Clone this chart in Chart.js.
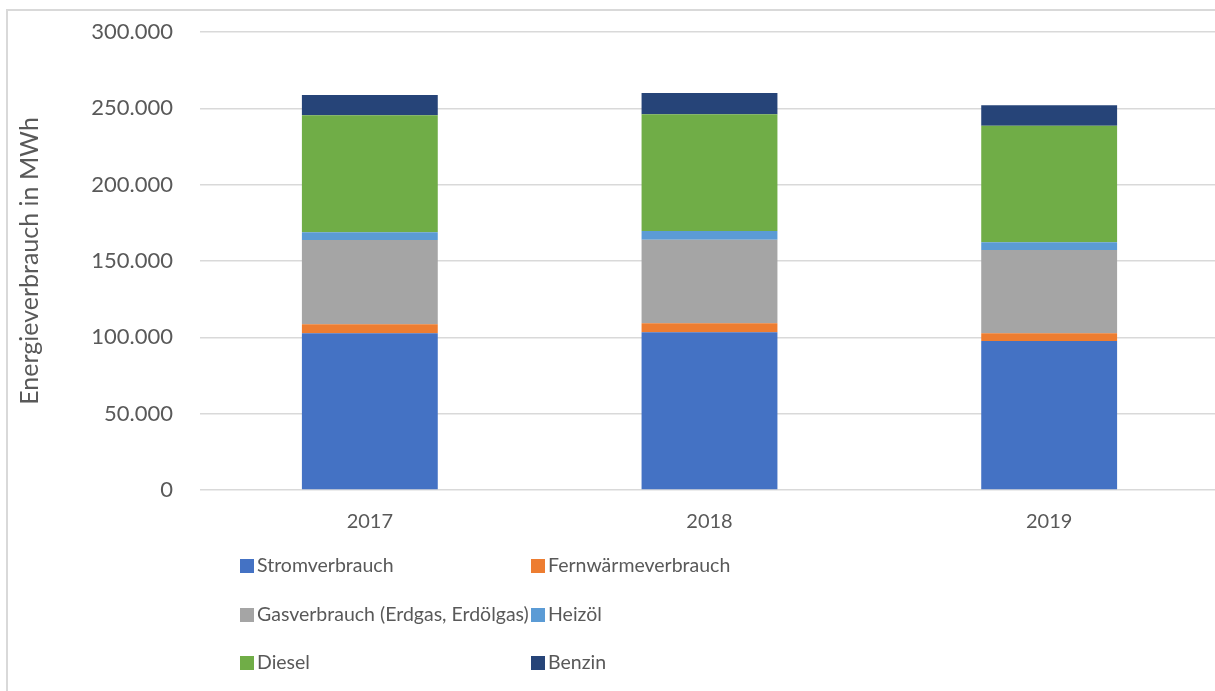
<!DOCTYPE html>
<html lang="de">
<head>
<meta charset="utf-8">
<title>Energieverbrauch</title>
<script src="https://cdn.jsdelivr.net/npm/chart.js@4.4.0/dist/chart.umd.min.js"></script>
<style>
  html, body { margin: 0; padding: 0; background: #fff; overflow: hidden; }
  #wrap { position: relative; width: 1215px; height: 691px; overflow: hidden; }
  #frame { position: absolute; left: 6px; top: 9px; width: 1300px; height: 800px;
           border: 2px solid #d9d9d9; box-sizing: border-box; }
  #myChart { position: absolute; left: 0; top: 0; }
  #legend { position: absolute; left: 0; top: 0; font-family: Lato, sans-serif;
            font-size: 19.5px; color: #595959; }
  .item { position: absolute; height: 24px; line-height: 24px; white-space: nowrap; }
  .box { display: inline-block; width: 14px; height: 14px; margin-right: 3px; vertical-align: -1px; }
</style>
</head>
<body>
<div id="wrap">
  <div id="frame"></div>
  <canvas id="myChart" width="1219" height="691"></canvas>
  <div id="legend"></div>
</div>
<script>
// Energieverbrauch je Jahr in MWh
const years = ['2017', '2018', '2019'];
const strom = [102600, 103300, 97600];
const fernwaerme = [5900, 5900, 5000];
const gas = [55300, 54800, 54600];
const heizoel = [5000, 5600, 5000];
const diesel = [76600, 76500, 76400];
const benzin = [13300, 13900, 13400];

const seriesNames = ['Stromverbrauch', 'Fernwärmeverbrauch', 'Gasverbrauch (Erdgas, Erdölgas)', 'Heizöl', 'Diesel', 'Benzin'];
const seriesValues = [strom, fernwaerme, gas, heizoel, diesel, benzin];
const colors = ['#4472c4', '#ed7d31', '#a5a5a5', '#5b9bd5', '#70ad47', '#264478'];

const textColor = '#595959';
Chart.defaults.font.family = 'Lato, sans-serif';

const ctx = document.getElementById('myChart');
const chart = new Chart(ctx, {
    type: 'bar',
    data: {
        labels: years,
        datasets: seriesNames.map((name, i) => ({
            label: name,
            data: seriesValues[i],
            backgroundColor: colors[i],
            borderWidth: 0,
            barPercentage: 0.4,
            categoryPercentage: 1.0
        }))
    },
    options: {
        responsive: false,
        animation: false,
        layout: { padding: { left: 13, top: 32, right: 0, bottom: 157 } },
        plugins: {
            legend: { display: false },
            tooltip: { enabled: false }
        },
        scales: {
            x: {
                stacked: true,
                grid: { display: false },
                border: { display: false },
                ticks: { color: textColor, font: { size: 20 }, padding: 12 },
                afterFit: axis => { axis.height = 44; }
            },
            y: {
                stacked: true,
                min: 0,
                max: 300000,
                ticks: {
                    stepSize: 50000,
                    padding: 27,
                    color: textColor,
                    font: { size: 22 },
                    callback: v => v.toLocaleString('de-DE')
                },
                grid: { color: '#d9d9d9', lineWidth: 1.5, drawTicks: false },
                border: { display: false },
                title: {
                    display: true,
                    text: 'Energieverbrauch in MWh',
                    color: textColor,
                    font: { size: 25 },
                    padding: { top: 2, bottom: 4 }
                },
                afterFit: axis => {
                    axis.width = 187;
                    axis.paddingTop = 0;
                    axis.paddingBottom = 0;
                }
            }
        }
    }
});

// Legende in zwei Spalten
const legend = document.getElementById('legend');
chart.data.datasets.forEach((ds, i) => {
    const item = document.createElement('div');
    item.className = 'item';
    item.style.left = (i % 2 === 0 ? 240 : 531) + 'px';
    item.style.top = (553 + Math.floor(i / 2) * 48.5) + 'px';
    const box = document.createElement('span');
    box.className = 'box';
    box.style.background = ds.backgroundColor;
    item.appendChild(box);
    item.appendChild(document.createTextNode(ds.label));
    legend.appendChild(item);
});
</script>
</body>
</html>
